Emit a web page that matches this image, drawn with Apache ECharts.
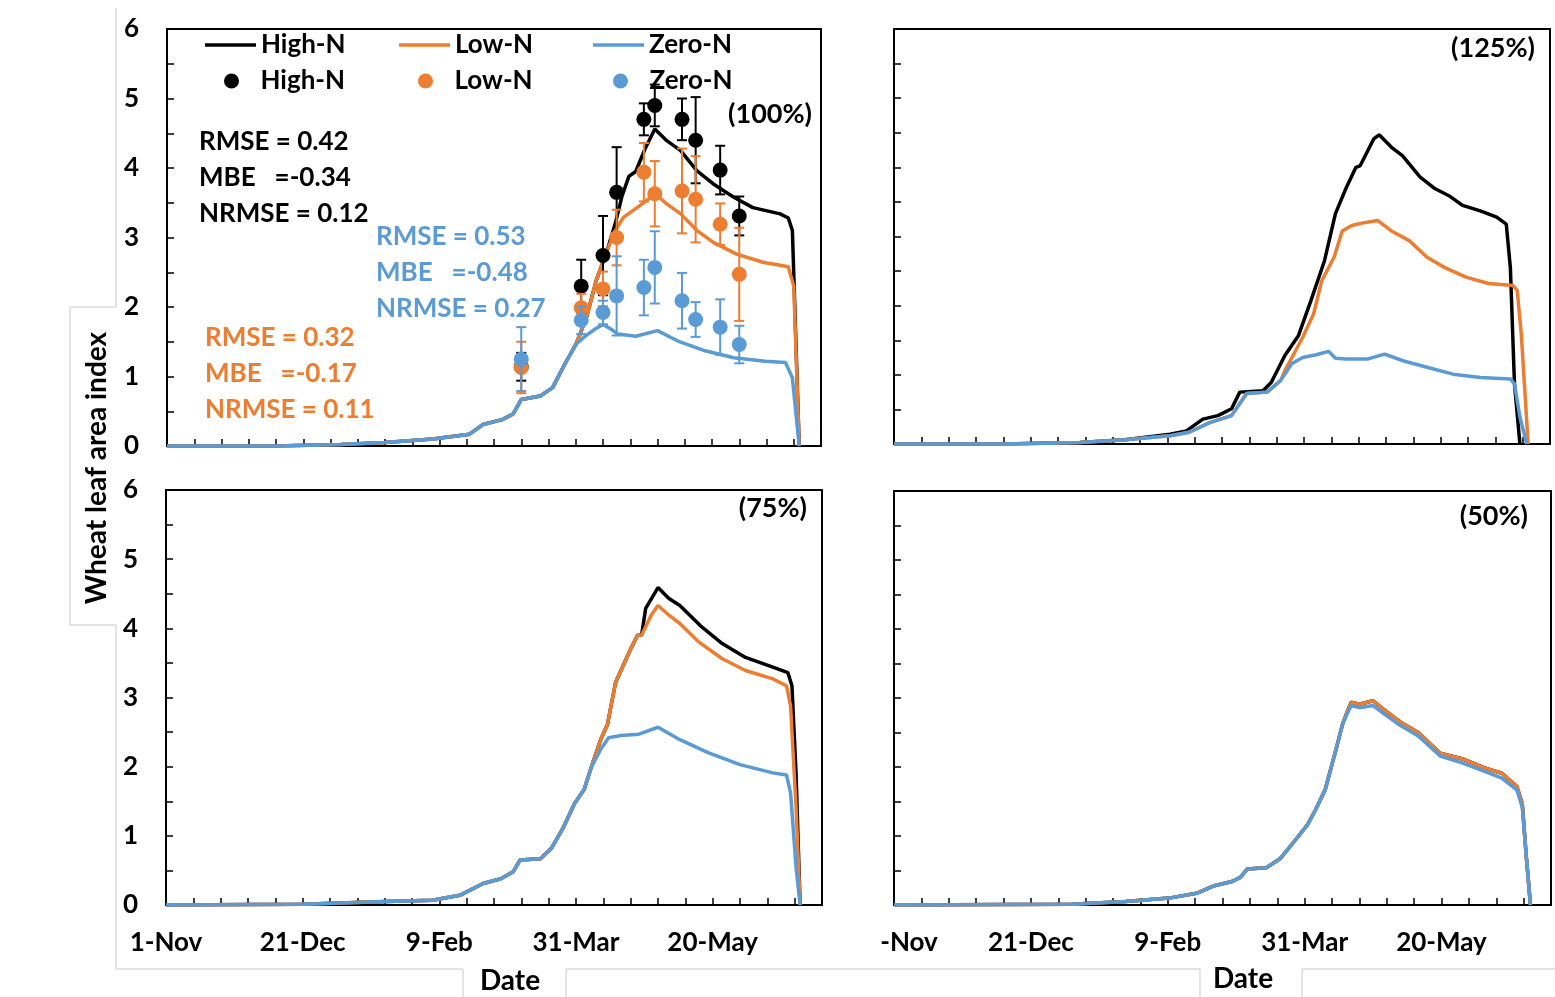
<!DOCTYPE html>
<html>
<head>
<meta charset="utf-8">
<title>Wheat leaf area index</title>
<script src="https://cdn.jsdelivr.net/npm/echarts@6.0.0/dist/echarts.min.js"></script>
<style>
  html, body { margin: 0; padding: 0; background: #fff; }
  #chart { width: 1555px; height: 997px; }
</style>
</head>
<body>
<div id="chart"></div>
<script>
// x = days after 1 November
const tickDays = [0, 50, 100, 150, 200];
const tickLabels = ['1-Nov', '21-Dec', '9-Feb', '31-Mar', '20-May'];

// simulated LAI, 100% panel
const hi100 = [[0,0],[40,0],[64,0.02],[80,0.05],[97.5,0.1],[111,0.17],[116,0.31],[123,0.38],[127,0.46],[130,0.67],[137,0.72],[141.5,0.84],[146,1.18],[150,1.46],[151,1.55],[154,1.86],[157.5,2.38],[161.5,2.81],[164.5,3.2],[167,3.6],[169.5,3.88],[172,3.95],[175.5,4.28],[179,4.56],[183.5,4.39],[188.5,4.25],[194.5,3.96],[200.5,3.77],[208,3.58],[215,3.43],[225,3.34],[228,3.28],[229.5,3.1],[232,0]];
const lo100 = [[0,0],[40,0],[64,0.02],[80,0.05],[97.5,0.1],[111,0.17],[116,0.31],[123,0.38],[127,0.46],[130,0.67],[137,0.72],[141.5,0.84],[146,1.18],[150,1.46],[151,1.55],[154,1.86],[157.5,2.38],[161.5,2.81],[164.5,3.1],[167.5,3.29],[172.5,3.43],[176,3.53],[179,3.63],[183.5,3.48],[188.5,3.34],[194.5,3.1],[200.5,2.93],[209,2.76],[219,2.64],[225,2.6],[228,2.58],[230,2.3],[232,0]];
const zero100 = [[0,0],[40,0],[64,0.02],[80,0.05],[97.5,0.1],[111,0.17],[116,0.31],[123,0.38],[127,0.46],[130,0.67],[137,0.72],[141.5,0.84],[146,1.18],[150,1.46],[153.5,1.58],[157,1.68],[160,1.75],[163,1.68],[165.5,1.61],[172,1.58],[180,1.66],[187.5,1.51],[197.5,1.37],[208,1.27],[219.5,1.22],[227,1.2],[229.5,0.98],[232,0]];

// 125% panel
const hi125 = [[0,0],[40,0],[68,0.02],[84.5,0.06],[101,0.14],[107,0.19],[113,0.36],[118.5,0.41],[123.5,0.51],[126.5,0.75],[135,0.77],[138,0.89],[143,1.28],[148,1.57],[152.5,2.07],[157.5,2.65],[161.5,3.33],[165.5,3.71],[169,4.0],[170.5,4.02],[175.5,4.41],[177.5,4.47],[182,4.29],[186,4.17],[192.5,3.86],[198,3.69],[203,3.59],[208,3.45],[214.5,3.37],[220.5,3.28],[224,3.18],[225.5,2.55],[227,0.87],[229,0]];
const lo125 = [[0,0],[40,0],[68,0.02],[84.5,0.06],[101,0.12],[108,0.17],[115.5,0.31],[123.5,0.41],[129,0.73],[136.5,0.75],[141.5,0.92],[143,1.06],[149.5,1.54],[153.5,1.88],[156.5,2.36],[161,2.7],[164,3.08],[167.5,3.16],[172,3.2],[177,3.23],[182,3.08],[188.5,2.94],[195,2.7],[201.5,2.55],[209.5,2.41],[217.5,2.32],[226.5,2.29],[228,2.22],[229.5,1.59],[232,0]];
const zero125 = [[0,0],[40,0],[68,0.02],[84.5,0.06],[101,0.12],[108,0.17],[115.5,0.31],[123.5,0.41],[129,0.73],[136.5,0.75],[141.5,0.92],[145.5,1.16],[149.5,1.25],[154.5,1.29],[159,1.34],[161.5,1.24],[165.5,1.23],[173.5,1.23],[179.5,1.3],[186.5,1.2],[195,1.11],[204.5,1.01],[214.5,0.96],[225.5,0.94],[227,0.87],[229,0.39],[231.5,0]];

// 75% panel
const hi75 = [[0,0],[50,0.01],[80.5,0.05],[97.5,0.07],[107.5,0.14],[116,0.31],[122.5,0.38],[127,0.48],[129.5,0.65],[137,0.67],[141,0.82],[145.5,1.13],[149.5,1.47],[153,1.67],[155.5,1.98],[159,2.39],[161.5,2.61],[164.5,3.22],[169.5,3.66],[172.5,3.9],[174,3.9],[175.5,4.29],[180,4.59],[184,4.43],[188,4.33],[196,4.02],[203.5,3.78],[212,3.58],[222,3.44],[227.5,3.36],[229,3.17],[230.5,1.91],[232,0]];
const lo75 = [[0,0],[50,0.01],[80.5,0.05],[97.5,0.07],[107.5,0.14],[116,0.31],[122.5,0.38],[127,0.48],[129.5,0.65],[137,0.67],[141,0.82],[145.5,1.13],[149.5,1.47],[153,1.67],[155.5,1.98],[159,2.39],[161.5,2.61],[164.5,3.22],[169.5,3.66],[172.5,3.9],[174,3.9],[177.5,4.19],[180,4.33],[184,4.19],[188,4.07],[195,3.8],[203.5,3.56],[212,3.39],[222,3.27],[227,3.17],[228.5,2.88],[230.5,1.42],[232,0]];
const zero75 = [[0,0],[50,0.01],[80.5,0.05],[97.5,0.07],[107.5,0.14],[116,0.31],[122.5,0.38],[127,0.48],[129.5,0.65],[137,0.67],[141,0.82],[145.5,1.13],[149.5,1.47],[153,1.67],[155.5,1.98],[159,2.25],[162,2.42],[166.5,2.45],[173,2.47],[180,2.57],[188,2.39],[198.5,2.2],[210,2.03],[222,1.91],[227,1.88],[228.5,1.62],[230.5,0.55],[232,0]];

// 50% panel (High-N lies under Low-N)
const hi50 = [[0,0],[65,0.01],[84.5,0.05],[100.5,0.1],[110.5,0.17],[117,0.28],[123.5,0.34],[126.5,0.4],[129,0.52],[136,0.54],[141,0.67],[147,0.96],[151,1.16],[154,1.38],[157.5,1.67],[160.5,2.11],[164,2.64],[167,2.94],[170,2.91],[175,2.96],[179,2.83],[185,2.65],[191.5,2.5],[199.5,2.2],[207.5,2.12],[215.5,1.99],[222,1.91],[227.5,1.72],[229.5,1.47],[231,0.69],[232.5,0]];
const lo50 = [[0,0],[65,0.01],[84.5,0.05],[100.5,0.1],[110.5,0.17],[117,0.28],[123.5,0.34],[126.5,0.4],[129,0.52],[136,0.54],[141,0.67],[147,0.96],[151,1.16],[154,1.38],[157.5,1.67],[160.5,2.11],[164,2.64],[167,2.94],[170,2.91],[175,2.96],[179,2.83],[185,2.65],[191.5,2.5],[199.5,2.2],[207.5,2.12],[215.5,1.99],[222,1.91],[227.5,1.72],[229.5,1.47],[231,0.69],[232.5,0]];
const zero50 = [[0,0],[65,0.01],[84.5,0.05],[100.5,0.1],[110.5,0.17],[117,0.28],[123.5,0.34],[126.5,0.4],[129,0.52],[136,0.54],[141,0.67],[147,0.96],[151,1.16],[154,1.38],[157.5,1.67],[160.5,2.11],[164,2.64],[167,2.89],[170,2.86],[175,2.89],[179,2.77],[185,2.6],[191.5,2.45],[199.5,2.16],[207.5,2.06],[215.5,1.94],[222,1.84],[227.5,1.67],[229.5,1.42],[231,0.69],[232.5,0]];

// observed LAI (100%) with error bars
const obsDays = [130, 152, 160, 165, 175, 179, 189, 194, 203, 210];
const hiObs = [1.14, 2.3, 2.74, 3.65, 4.7, 4.9, 4.7, 4.4, 3.97, 3.31];
const hiErr = [0.2, 0.38, 0.57, 0.65, 0.23, 0.3, 0.3, 0.62, 0.35, 0.28];
const loObs = [1.13, 1.99, 2.26, 3.0, 3.94, 3.63, 3.67, 3.55, 3.19, 2.47];
const loErr = [0.37, 0.2, 0.25, 0.4, 0.42, 0.47, 0.61, 0.62, 0.3, 0.67];
const zeroObs = [1.25, 1.81, 1.92, 2.16, 2.28, 2.57, 2.09, 1.82, 1.71, 1.46];
const zeroErr = [0.46, 0.2, 0.17, 0.57, 0.4, 0.52, 0.4, 0.25, 0.4, 0.27];

const BLACK = '#000000', ORANGE = '#ED7D31', BLUE = '#5B9BD5';
const FONT = 'Lato, "Liberation Sans", sans-serif';

const chart = echarts.init(document.getElementById('chart'));

const panels = [
  { hi: hi100, lo: lo100, zero: zero100, grid: { left: 167, top: 29, width: 654, height: 417 }, yLabels: true, xLabels: false },
  { hi: hi125, lo: lo125, zero: zero125, grid: { left: 894, top: 29, width: 656, height: 415 }, yLabels: false, xLabels: false },
  { hi: hi75, lo: lo75, zero: zero75, grid: { left: 166, top: 490, width: 656, height: 415 }, yLabels: true, xLabels: true },
  { hi: hi50, lo: lo50, zero: zero50, grid: { left: 894, top: 491, width: 657, height: 414 }, yLabels: false, xLabels: true, cut: true }
];

function dayLabel(v, cut) {
  const i = tickDays.indexOf(v);
  if (i < 0) return '';
  if (cut && i === 0) return '{c|-Nov}';
  return tickLabels[i];
}

const grids = [], xAxes = [], yAxes = [], series = [];
panels.forEach((p, k) => {
  grids.push(Object.assign({ show: true, borderColor: '#000', borderWidth: 2, backgroundColor: 'transparent' }, p.grid));
  xAxes.push({
    type: 'value', gridIndex: k, min: 0, max: 240, interval: 10,
    axisLine: { lineStyle: { color: '#000', width: 2 } },
    axisTick: { inside: true, length: 7, lineStyle: { color: '#000', width: 1.5 } },
    splitLine: { show: false },
    axisLabel: {
      show: p.xLabels, margin: 25, color: '#000', fontSize: 26, fontWeight: 'bold', fontFamily: FONT,
      formatter: v => dayLabel(v, p.cut),
      rich: { c: { padding: [0, 0, 0, 30], color: '#000', fontSize: 26, fontWeight: 'bold', fontFamily: FONT } }
    }
  });
  yAxes.push({
    type: 'value', gridIndex: k, min: 0, max: 6, interval: 0.5,
    axisLine: { show: true, lineStyle: { color: '#000', width: 2 } },
    axisTick: { show: true, inside: true, length: 7, lineStyle: { color: '#000', width: 1.5 } },
    splitLine: { show: false },
    axisLabel: {
      show: p.yLabels, margin: 28, color: '#000', fontSize: 26, fontWeight: 'bold', fontFamily: FONT,
      formatter: v => (Number.isInteger(v) ? String(v) : '')
    }
  });
  [['High-N', p.hi, BLACK], ['Low-N', p.lo, ORANGE], ['Zero-N', p.zero, BLUE]].forEach(([name, data, color]) => {
    series.push({
      name, type: 'line', xAxisIndex: k, yAxisIndex: k, data,
      symbol: 'none', smooth: false, z: 3,
      lineStyle: { color, width: 3.5 }, itemStyle: { color }
    });
  });
});

// observations (top-left panel only)
[['High-N obs', hiObs, hiErr, BLACK], ['Low-N obs', loObs, loErr, ORANGE], ['Zero-N obs', zeroObs, zeroErr, BLUE]].forEach(([name, obs, err, color], j) => {
  series.push({
    name, type: 'scatter', xAxisIndex: 0, yAxisIndex: 0,
    data: obsDays.map((d, i) => [d, obs[i]]),
    symbol: 'circle', symbolSize: 15, itemStyle: { color, opacity: 1 }, z: 6 + j * 2
  });
  series.push({
    name, type: 'custom', xAxisIndex: 0, yAxisIndex: 0, z: 5 + j * 2,
    data: obsDays.map((d, i) => [d, obs[i] - err[i], obs[i] + err[i]]),
    encode: { x: 0, y: [1, 2] },
    renderItem: (params, api) => {
      const lo = api.coord([api.value(0), api.value(1)]);
      const hi = api.coord([api.value(0), api.value(2)]);
      const w = 5;
      const st = { stroke: color, lineWidth: 2 };
      return {
        type: 'group', children: [
          { type: 'line', shape: { x1: lo[0], y1: lo[1], x2: hi[0], y2: hi[1] }, style: st },
          { type: 'line', shape: { x1: hi[0] - w, y1: hi[1], x2: hi[0] + w, y2: hi[1] }, style: st },
          { type: 'line', shape: { x1: lo[0] - w, y1: lo[1], x2: lo[0] + w, y2: lo[1] }, style: st }
        ]
      };
    }
  });
});

// legend: one component per entry so the layout matches the reference
const legendText = { color: '#000', fontSize: 26, fontWeight: 'bold', fontFamily: FONT };
const lineLegends = [['High-N', 205], ['Low-N', 399], ['Zero-N', 593]].map(([name, left]) => ({
  left, top: 32, padding: 0, data: [name], selectedMode: false,
  icon: 'rect', itemWidth: 51, itemHeight: 3.5, itemGap: 0, textStyle: legendText
}));
const dotLegends = [['High-N obs', 224], ['Low-N obs', 418], ['Zero-N obs', 613]].map(([name, left]) => ({
  left, top: 68, padding: 0, data: [name], selectedMode: false,
  icon: 'circle', itemWidth: 48, itemHeight: 15, itemGap: 0,
  formatter: n => n.replace(' obs', ''), textStyle: legendText
}));

function txt(text, x, y, color, align, size) {
  return {
    type: 'text', x, y, z: 20,
    style: { text, fill: color, font: 'bold ' + (size || 26) + 'px ' + FONT, textAlign: align || 'left', textVerticalAlign: 'middle' }
  };
}
function frame(points) {
  return { type: 'polyline', z: 0, shape: { points }, style: { stroke: '#c8c8c8', lineWidth: 1, fill: null } };
}

const graphics = [
  frame([[116, 8], [116, 307], [70, 307], [70, 625], [116, 625], [116, 969], [463, 969], [463, 997]]),
  frame([[566, 997], [566, 969], [1200, 969], [1200, 997]]),
  frame([[1302, 997], [1302, 969], [1555, 969]]),
  txt('RMSE = 0.42', 199, 142, BLACK), txt('MBE   =-0.34', 199, 178, BLACK), txt('NRMSE = 0.12', 199, 214, BLACK),
  txt('RMSE = 0.53', 376, 237, BLUE), txt('MBE   =-0.48', 376, 273, BLUE), txt('NRMSE = 0.27', 376, 309, BLUE),
  txt('RMSE = 0.32', 205, 338, ORANGE), txt('MBE   =-0.17', 205, 374, ORANGE), txt('NRMSE = 0.11', 205, 410, ORANGE),
  txt('(100%)', 812, 114, BLACK, 'right', 27),
  txt('(125%)', 1535, 48, BLACK, 'right', 27),
  txt('(75%)', 807, 508, BLACK, 'right', 27),
  txt('(50%)', 1528, 516, BLACK, 'right', 27),
  txt('Date', 510, 981, BLACK, 'center', 28),
  txt('Date', 1243, 979, BLACK, 'center', 28),
  {
    type: 'text', x: 97, y: 468, rotation: Math.PI / 2, z: 20,
    style: { text: 'Wheat leaf area index', fill: BLACK, font: 'bold 28px ' + FONT, textAlign: 'center', textVerticalAlign: 'middle' }
  }
];

chart.setOption({
  animation: false,
  backgroundColor: '#fff',
  grid: grids,
  xAxis: xAxes,
  yAxis: yAxes,
  legend: lineLegends.concat(dotLegends),
  series,
  graphic: graphics
});
</script>
</body>
</html>
